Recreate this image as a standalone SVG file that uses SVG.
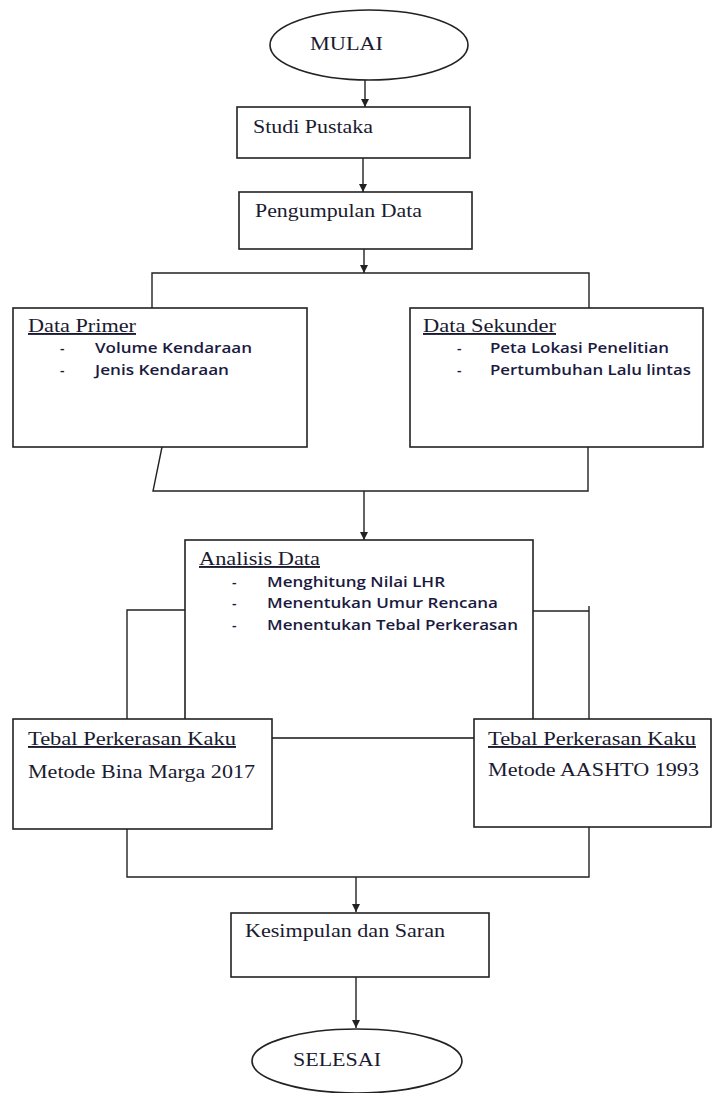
<svg xmlns="http://www.w3.org/2000/svg" width="720" height="1093" viewBox="0 0 720 1093">
<style>
.bg{fill:#fff}
.box{fill:#fff;stroke:#222;stroke-width:1.6}
.ln{fill:none;stroke:#222;stroke-width:1.4}
.t{font-family:"Liberation Serif","Times New Roman",serif;font-size:19px;fill:#1a1a30}
.u{text-decoration:underline}
.b{font-family:"Open Sans","Liberation Sans",sans-serif;font-size:14px;font-weight:600;fill:#1a1a40}
</style>
<defs>
<marker id="ah" markerWidth="9" markerHeight="9" refX="8" refY="4" orient="auto" markerUnits="userSpaceOnUse">
<path d="M0,0 L8,4 L0,8 z" fill="#222"/>
</marker>
</defs>
<rect class="bg" x="0" y="0" width="720" height="1093"/>
<g id="connectors">
<line class="ln" x1="365" y1="80" x2="365" y2="107" marker-end="url(#ah)"/>
<line class="ln" x1="363" y1="158" x2="363" y2="192" marker-end="url(#ah)"/>
<line class="ln" x1="364" y1="249" x2="364" y2="273" marker-end="url(#ah)"/>
<polyline class="ln" points="152,308 152,273 589,273 589,308"/>
<polyline class="ln" points="162,447 153,491 588,491 588,447"/>
<line class="ln" x1="364" y1="491" x2="364" y2="540" marker-end="url(#ah)"/>
<polyline class="ln" points="185,610 127,610 127,719"/>
<polyline class="ln" points="533,611 589,611"/>
<line class="ln" x1="589" y1="606" x2="589" y2="719"/>
<polyline class="ln" points="127,829 127,877 589,877 589,827"/>
<line class="ln" x1="356" y1="877" x2="356" y2="912" marker-end="url(#ah)"/>
<line class="ln" x1="356" y1="977" x2="356" y2="1028" marker-end="url(#ah)"/>
</g>
<g id="mulai">
<ellipse class="box" cx="369" cy="45" rx="99" ry="35"/>
<text class="t" x="310" y="50" textLength="73" lengthAdjust="spacingAndGlyphs">MULAI</text>
</g>
<g id="studi-pustaka">
<rect class="box" x="237" y="107" width="233" height="51"/>
<text class="t" x="253" y="133" textLength="120" lengthAdjust="spacingAndGlyphs">Studi Pustaka</text>
</g>
<g id="pengumpulan-data">
<rect class="box" x="239" y="192" width="233" height="57"/>
<text class="t" x="255" y="217" textLength="167" lengthAdjust="spacingAndGlyphs">Pengumpulan Data</text>
</g>
<g id="data-primer">
<rect class="box" x="13" y="308" width="294" height="139"/>
<text class="t u" x="28" y="332" textLength="108" lengthAdjust="spacingAndGlyphs">Data Primer</text>
<text class="b" x="60" y="353">-</text>
<text class="b" x="95" y="353" textLength="157" lengthAdjust="spacingAndGlyphs">Volume Kendaraan</text>
<text class="b" x="60" y="375">-</text>
<text class="b" x="95" y="375" textLength="134" lengthAdjust="spacingAndGlyphs">Jenis Kendaraan</text>
</g>
<g id="data-sekunder">
<rect class="box" x="410" y="308" width="293" height="139"/>
<text class="t u" x="423" y="332" textLength="133" lengthAdjust="spacingAndGlyphs">Data Sekunder</text>
<text class="b" x="457" y="353">-</text>
<text class="b" x="490" y="353" textLength="179" lengthAdjust="spacingAndGlyphs">Peta Lokasi Penelitian</text>
<text class="b" x="457" y="375">-</text>
<text class="b" x="490" y="375" textLength="201" lengthAdjust="spacingAndGlyphs">Pertumbuhan Lalu lintas</text>
</g>
<g id="analisis-data">
<rect class="box" x="185" y="540" width="348" height="198"/>
<text class="t u" x="199" y="565" textLength="121" lengthAdjust="spacingAndGlyphs">Analisis Data</text>
<text class="b" x="232" y="587">-</text>
<text class="b" x="267" y="587" textLength="178" lengthAdjust="spacingAndGlyphs">Menghitung Nilai LHR</text>
<text class="b" x="232" y="608">-</text>
<text class="b" x="267" y="608" textLength="231" lengthAdjust="spacingAndGlyphs">Menentukan Umur Rencana</text>
<text class="b" x="232" y="630">-</text>
<text class="b" x="267" y="630" textLength="251" lengthAdjust="spacingAndGlyphs">Menentukan Tebal Perkerasan</text>
</g>
<g id="tebal-bina-marga">
<rect class="box" x="13" y="719" width="259" height="110"/>
<text class="t u" x="28" y="745" textLength="208" lengthAdjust="spacingAndGlyphs">Tebal Perkerasan Kaku</text>
<text class="t" x="28" y="778" textLength="227" lengthAdjust="spacingAndGlyphs">Metode Bina Marga 2017</text>
</g>
<g id="tebal-aashto">
<rect class="box" x="474" y="719" width="237" height="108"/>
<text class="t u" x="488" y="745" textLength="208" lengthAdjust="spacingAndGlyphs">Tebal Perkerasan Kaku</text>
<text class="t" x="488" y="776" textLength="211" lengthAdjust="spacingAndGlyphs">Metode AASHTO 1993</text>
</g>
<g id="kesimpulan">
<rect class="box" x="231" y="913" width="258" height="64"/>
<text class="t" x="245" y="937" textLength="200" lengthAdjust="spacingAndGlyphs">Kesimpulan dan Saran</text>
</g>
<g id="selesai">
<ellipse class="box" cx="357" cy="1061" rx="105" ry="32"/>
<text class="t" x="293" y="1066" textLength="88" lengthAdjust="spacingAndGlyphs">SELESAI</text>
</g>
</svg>
